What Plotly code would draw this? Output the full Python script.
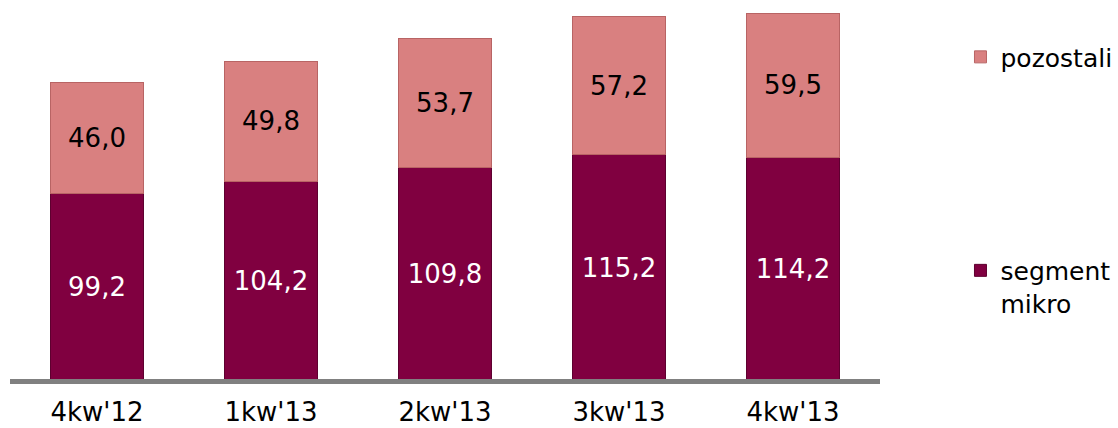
import plotly.graph_objects as go

categories = ["4kw'12", "1kw'13", "2kw'13", "3kw'13", "4kw'13"]
mikro = [99.2, 104.2, 109.8, 115.2, 114.2]
pozostali = [46.0, 49.8, 53.7, 57.2, 59.5]

Y_MIN = 22.1
Y_MAX = 179.4
FONT = "DejaVu Sans"
C_MIKRO = "#800040"
C_POZ = "#D98080"

def fmt(v):
    return f"{v:.1f}".replace(".", ",")

fig = go.Figure()
fig.add_trace(go.Bar(
    x=categories, y=mikro, name="segment<br>mikro",
    marker=dict(color=C_MIKRO, line=dict(color="#5e0030", width=1)),
    legendgroup="a", legendrank=2, textposition="none", hoverinfo="skip",
))
fig.add_trace(go.Bar(
    x=categories, y=pozostali, name="pozostali",
    marker=dict(color=C_POZ, line=dict(color="#b86464", width=1)),
    legendgroup="b", legendrank=1,
    text=[fmt(v) for v in pozostali], textposition="inside",
    insidetextanchor="middle",
    textfont=dict(family=FONT, size=26, color="black"),
    hoverinfo="skip",
))
# labels for the visible part of the lower segment
fig.add_trace(go.Scatter(
    x=categories, y=[(Y_MIN + v) / 2 - 1.5 for v in mikro],
    mode="text", text=[fmt(v) for v in mikro],
    textfont=dict(family=FONT, size=26, color="white"),
    showlegend=False, hoverinfo="skip", cliponaxis=False,
))

fig.update_layout(
    barmode="stack",
    bargap=0.47,
    width=1118, height=428,
    margin=dict(l=10, r=238, t=0, b=49),
    paper_bgcolor="white", plot_bgcolor="white",
    font=dict(family=FONT, size=26, color="black"),
    showlegend=True,
    legend=dict(
        x=1.0925, xanchor="left", y=0.91, yanchor="top",
        traceorder="grouped", tracegroupgap=178,
        valign="top", itemwidth=30, borderwidth=0,
        font=dict(family=FONT, size=25, color="black"),
        bgcolor="rgba(0,0,0,0)",
    ),
)
fig.update_xaxes(
    showline=True, linecolor="#808080", linewidth=5,
    ticks="", showgrid=False, zeroline=False, ticklabelstandoff=6,
    tickfont=dict(family=FONT, size=26, color="black"),
)
fig.update_yaxes(
    range=[Y_MIN, Y_MAX], visible=False, showgrid=False, zeroline=False,
)

fig.write_html("out.html", config={"displayModeBar": False},
               post_script="document.body.style.margin='0';")
